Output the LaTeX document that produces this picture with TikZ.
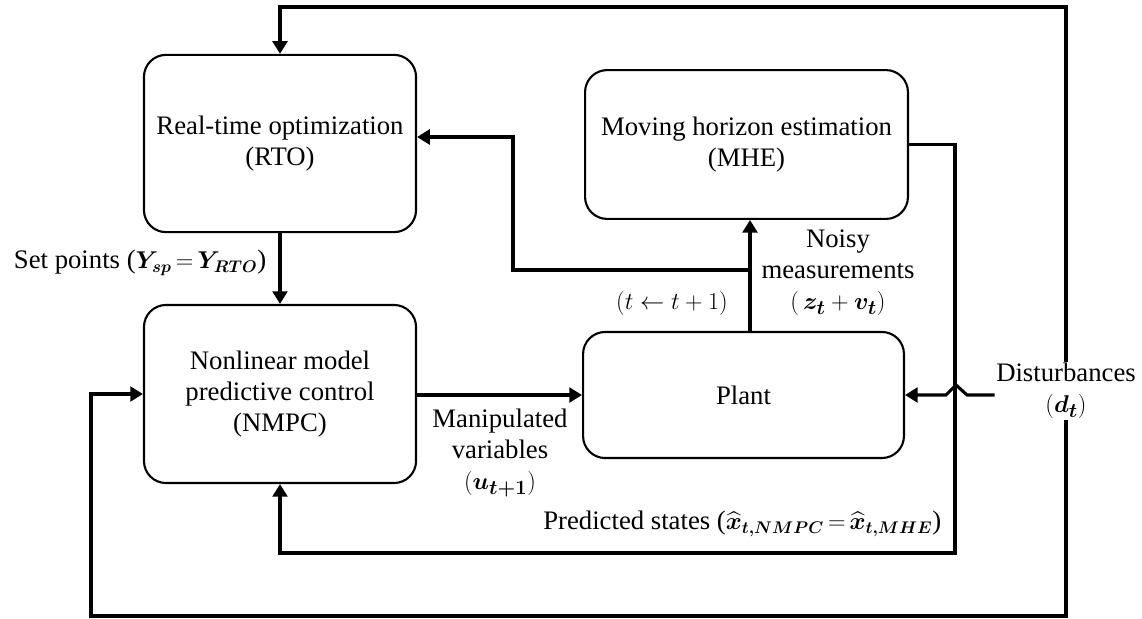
\documentclass[tikz,border=0pt]{standalone}
\usepackage{fontspec}
\setmainfont{Liberation Serif}
\usepackage{amsmath,bm}
\usetikzlibrary{arrows.meta,positioning,calc}
\newcommand{\mathsz}{\fontsize{17}{20}\selectfont}

\begin{document}
\begin{tikzpicture}[x=0.025cm, y=-0.025cm,
      every node/.style={font=\fontsize{19}{22}\selectfont},
      box/.style={draw, line width=1.5pt, rounded corners=0.55cm, align=center},
      lbl/.style={align=center, inner sep=1pt},
      arr/.style={-{Triangle[length=9pt,width=10.5pt]}, line width=2.2pt}
    ]
    \useasboundingbox (0,0) rectangle (1142,618);
    \node[box, minimum width=6.8cm, minimum height=4.43cm] (rto) at (280,143.5) {Real-time optimization\\(RTO)};
    \node[box, minimum width=6.8cm, minimum height=4.45cm] (nmpc) at (280,394) {Nonlinear model\\predictive control\\(NMPC)};
    \node[box, minimum width=8.07cm, minimum height=3.72cm] (mhe) at (746.5,144.5) {Moving horizon estimation\\(MHE)};
    \node[box, minimum width=8.02cm, minimum height=3.15cm] (plant) at (743.5,395) {Plant};
    \node[lbl] (dist) at (1066,391) {Disturbances\\$(\bm{d}_{\bm{t}})$};
    \node[lbl, anchor=east] (sp) at (268,263) {Set points ({\mathsz$\bm{Y}_{\bm{sp}}\,{=}\,\bm{Y}_{\bm{RTO}}$})};
    \node[lbl] (tstep) at (672,303) {$(t\leftarrow t+1)$};
    \node[lbl] (noisy) at (838,273) {Noisy\\measurements\\$(\,\bm{z}_{\bm{t}}+\bm{v}_{\bm{t}})$};
    \node[lbl] (mv) at (500,453) {Manipulated\\variables\\$(\bm{u}_{\bm{t+1}})$};
    \node[lbl, anchor=east] (pred) at (943,524) {Predicted states ({\mathsz$\widehat{\bm{x}}_{\bm{t,NMPC}}\,{=}\,\widehat{\bm{x}}_{\bm{t,MHE}}$})};
    \coordinate (meas) at (750,270);
    \coordinate (br) at (513,137);
    \coordinate (pr) at (955,553);
    \coordinate (top) at (1066,7);
    \coordinate (bot) at (91,616);
    % main loop
    \draw[arr] (rto) -- (nmpc);
    \draw[arr] (nmpc.east |- plant) -- (plant.west);
    \draw[arr] (meas |- plant.north) -- (meas |- mhe.south);
    \draw[arr] (meas) -| (br) -- (br -| rto.east);
    \draw[arr] (mhe.east) -| (pr) -| (nmpc.south);
    % disturbances
    \draw[arr] (dist.north) -- (top) -| (rto.north);
    \draw[arr] (dist.south) |- (bot) |- (nmpc.west);
    \draw[arr] (dist.west |- plant) -- (967,395) -- (956,385) -- (946,395) -- (plant.east);
  \end{tikzpicture}
\end{document}
